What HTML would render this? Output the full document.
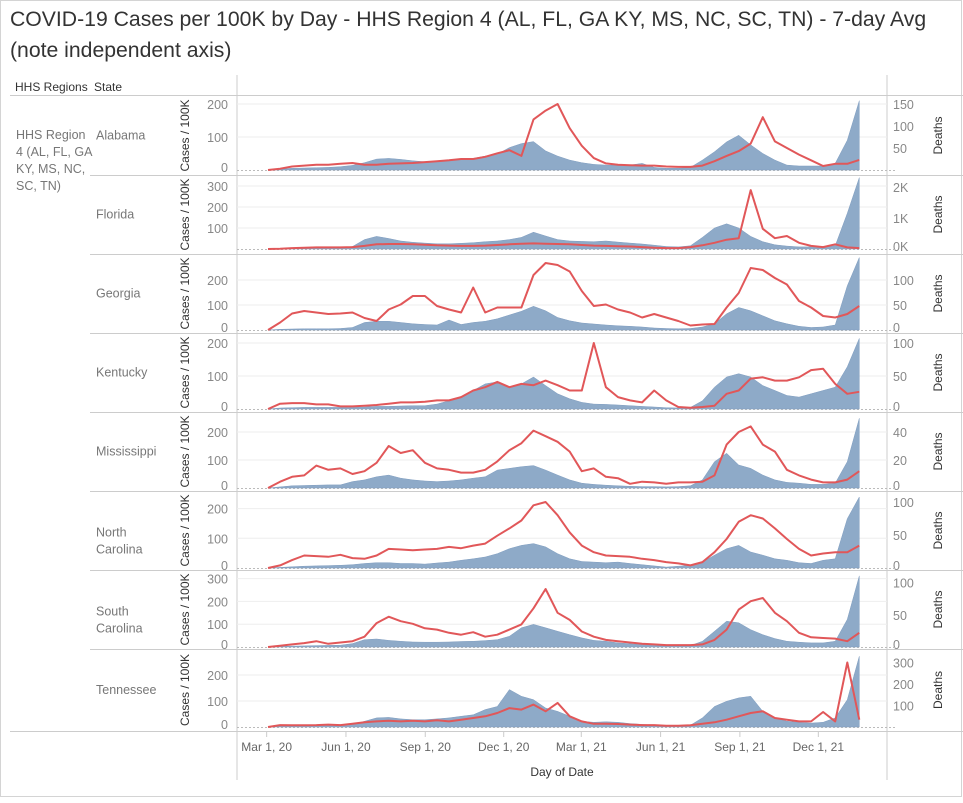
<!DOCTYPE html>
<html><head><meta charset="utf-8">
<style>
body{margin:0;background:#fff;font-family:"Liberation Sans",sans-serif;}
svg text{font-family:"Liberation Sans",sans-serif;}
</style></head>
<body>
<svg id="chart" width="963" height="798" viewBox="0 0 963 798" xmlns="http://www.w3.org/2000/svg">
<rect x="0.5" y="0.5" width="961" height="796" fill="#fff" stroke="#d4d4d4"/>
<text x="10" y="26" font-size="21.2" fill="#333">COVID-19 Cases per 100K by Day - HHS Region 4 (AL, FL, GA KY, MS, NC, SC, TN) - 7-day Avg</text>
<text x="10" y="57" font-size="21.2" fill="#333">(note independent axis)</text>
<text x="15" y="91" font-size="12" fill="#333">HHS Regions</text>
<text x="94" y="91" font-size="12" fill="#333">State</text>
<g fill="#777" font-size="12.5">
<text x="16" y="139">HHS Region</text><text x="16" y="156">4 (AL, FL, GA</text><text x="16" y="173">KY, MS, NC,</text><text x="16" y="190">SC, TN)</text>
</g>
<line x1="237" y1="75" x2="237" y2="780" stroke="#ccc"/>
<line x1="887" y1="75" x2="887" y2="780" stroke="#ccc"/>
<line x1="10" y1="95.5" x2="963" y2="95.5" stroke="#ccc"/>
<line x1="10" y1="731.5" x2="963" y2="731.5" stroke="#ccc"/>
<g id="panels"></g>
<g id="xaxis"></g>
<text x="562" y="776" font-size="12" fill="#333" text-anchor="middle">Day of Date</text>
</svg>
<script>
// dates: 50 samples, 14 days apart, starting day 12 after Mar 1 2020
const sampleStartDay = 12;
const sampleStepDays = 14;
const xTickLabels = ["Mar 1, 20","Jun 1, 20","Sep 1, 20","Dec 1, 20","Mar 1, 21","Jun 1, 21","Sep 1, 21","Dec 1, 21"];
const xTickDays = [0,92,184,275,365,457,549,640];

const stateNames = ["Alabama","Florida","Georgia","Kentucky","Mississippi","North Carolina","South Carolina","Tennessee"];

const alCases = [0,3,5,6,7,8,10,14,22,33,35,32,28,25,25,28,32,35,42,48,68,80,86,58,42,30,22,17,15,14,15,20,8,5,5,8,30,55,85,105,76,50,30,15,12,12,12,20,90,210];
const alDeaths = [0,3,8,10,12,12,14,16,12,12,14,15,16,18,20,22,25,25,30,38,45,32,115,135,150,95,55,27,15,12,11,10,10,8,7,7,10,20,32,43,60,120,65,50,35,22,9,14,14,23];
const flCases = [0,2,3,4,5,5,6,12,45,60,50,38,32,28,25,25,27,30,35,38,45,55,80,62,45,38,36,35,38,33,28,24,18,12,10,15,55,100,120,100,60,35,20,14,10,10,12,15,170,340];
const flDeaths = [0,10,30,40,50,50,50,60,100,150,160,160,150,140,120,110,100,100,110,130,150,170,180,170,160,150,130,110,100,90,80,60,40,30,30,60,120,200,300,350,1900,650,350,420,200,100,60,150,50,30];
const gaCases = [0,3,4,5,5,5,6,10,30,35,35,30,25,22,20,40,22,30,35,45,60,75,95,77,50,37,28,24,20,17,15,12,8,6,5,6,12,25,65,90,77,57,37,25,15,10,12,20,177,290];
const gaDeaths = [0,15,33,38,35,32,33,35,24,18,41,51,68,68,48,41,35,85,35,45,45,45,110,134,130,117,78,48,51,41,35,25,32,25,18,9,11,12,45,74,124,120,104,91,58,45,28,25,32,48];
const kyCases = [0,3,4,5,5,5,5,5,6,8,8,9,10,10,15,25,35,56,76,82,66,76,97,71,46,31,20,15,14,12,10,8,6,4,3,5,25,66,97,107,97,71,56,41,36,46,56,66,128,214];
const kyDeaths = [0,8,9,9,7,7,4,4,5,6,8,10,10,11,13,13,18,28,33,41,33,38,36,43,36,28,28,100,33,18,13,10,28,13,3,2,3,5,23,28,46,48,43,43,48,59,61,38,23,26];
const msCases = [0,4,8,9,10,11,11,23,29,40,46,35,29,25,23,25,29,35,40,64,70,76,80,64,46,29,17,13,10,8,6,5,5,4,5,8,29,94,124,82,70,46,29,20,17,13,13,17,94,249];
const msDeaths = [0,4.5,8,9,16,13,14,10,12,18,30,25,27,18,14,13,11,11,13,19,27,32,41,37,33,26,12,14,8,7,3,4.5,4,3,4,4,4.5,9,31,40,44,31,26,13,9,6,4,4,6,12];
const ncCases = [0,2,4,6,7,8,9,11,15,18,18,15,15,13,17,20,26,31,37,48,65,76,82,71,48,31,22,20,18,20,15,11,7,3,6,9,20,43,65,76,54,43,31,26,18,15,26,31,166,239];
const ncDeaths = [0,4,12,19,18,17,20,15,14,19,29,28,27,28,29,32,30,34,37,49,60,72,95,100,80,54,34,24,19,18,17,14,12,9,7,4,9,24,44,70,80,75,60,44,29,19,22,24,24,34];
const scCases = [0,2,4,5,6,7,8,15,32,35,29,25,22,21,21,22,24,25,28,32,47,84,99,84,69,54,40,29,25,18,14,10,7,6,5,6,25,69,113,106,76,54,37,25,21,18,18,25,121,312];
const scDeaths = [0,2,4,6,9,5,7,9,16,37,47,40,36,29,27,22,19,23,16,19,27,35,60,90,53,42,24,16,11,9,7,5,4,3,3,3,4,11,27,58,71,76,53,40,22,15,14,13,9,22];
const tnCases = [0,3,4,5,6,8,9,9,22,35,37,31,28,28,31,35,41,47,67,79,144,118,105,73,60,41,22,18,20,18,13,10,7,5,4,7,35,79,99,112,118,60,35,22,18,15,18,35,105,272];
const tnDeaths = [0,9,8,8,9,11,9,15,22,26,29,26,29,26,31,26,34,42,50,65,88,81,104,73,112,50,26,15,15,14,11,9,9,6,6,8,15,22,34,50,65,73,42,34,26,26,70,26,300,34];

const caseSeries = [alCases,flCases,gaCases,kyCases,msCases,ncCases,scCases,tnCases];
const deathSeries = [alDeaths,flDeaths,gaDeaths,kyDeaths,msDeaths,ncDeaths,scDeaths,tnDeaths];
const caseTicks = [[0,100,200],[100,200,300],[0,100,200],[0,100,200],[0,100,200],[0,100,200],[0,100,200,300],[0,100,200]];
const deathTicks = [[50,100,150],[0,1000,2000],[0,50,100],[0,50,100],[0,20,40],[0,50,100],[0,50,100],[100,200,300]];

// layout (not data)
const panelTops = [96,175,254,333,412,491,570,649];
const panelBottoms = [175,254,333,412,491,570,649,731];
const zeroYs = [170,249,330,409,488,568,647,727];
const casePxPerUnit = [0.33,0.21,0.25,0.33,0.28,0.297,0.228,0.26];
const deathPxPerUnit = [0.44,0.031,0.5,0.66,1.4,0.66,0.645,0.215];

const X0 = 268, PX_PER_DAY = 0.862;
function xDay(d){ return X0 + (d - sampleStartDay) * PX_PER_DAY; }
function xIdx(i){ return xDay(sampleStartDay + i * sampleStepDays); }
const NS = "http://www.w3.org/2000/svg";
function mk(tag, attrs, parent){ const e = document.createElementNS(NS, tag); for (const k in attrs) e.setAttribute(k, attrs[k]); parent.appendChild(e); return e; }
function fmtDeath(v, p){ return p === 1 ? (v/1000) + "K" : String(v); }

const panels = document.getElementById("panels");
for (let p = 0; p < 8; p++) {
  const g = mk("g", {}, panels);
  
  
  const z = zeroYs[p];
  const yc = v => z - v * casePxPerUnit[p];
  const yd = v => z - v * deathPxPerUnit[p];
  if (p > 0) {
    const sep = mk("line", {x1:90, y1:panelTops[p]+0.5, x2:963, y2:panelTops[p]+0.5, stroke:"#ccc"}, g);
    
    
  }
  const midY = (panelTops[p] + panelBottoms[p]) / 2;
  const lines = stateNames[p] === "North Carolina" ? ["North","Carolina"] : stateNames[p] === "South Carolina" ? ["South","Carolina"] : [stateNames[p]];
  lines.forEach((t, k) => {
    const by = lines.length > 1 ? midY + 6 + k * 17 : midY + 4;
    const st = mk("text", {x:96, y: by, "font-size":12.5, fill:"#777"}, g);
    st.textContent = t;
    
    
  });
  caseTicks[p].forEach(v => {
    if (v !== 0) {
      const gl = mk("line", {x1:237, x2:887, y1:yc(v), y2:yc(v), stroke:"#eeeeee"}, g);
      
      
    }
    const t = mk("text", {x:228, y: (v===0 ? yc(v)-3 : yc(v)) + 5, "font-size":12.5, fill:"#888", "text-anchor":"end"}, g);
    t.textContent = String(v);
    
    
  });
  deathTicks[p].forEach(v => {
    const t = mk("text", {x:893, y: (v===0 ? yd(v)-3 : yd(v)) + 5, "font-size":12.5, fill:"#888"}, g);
    t.textContent = fmtDeath(v, p);
    
    
  });
  const zl = mk("line", {x1:237, x2:897, y1:z+0.5, y2:z+0.5, stroke:"#bbb", "stroke-dasharray":"2,2"}, g);
  
  
  let d = "M" + xIdx(0) + "," + z;
  caseSeries[p].forEach((v, i) => { d += " L" + xIdx(i).toFixed(1) + "," + yc(v).toFixed(1); });
  d += " L" + xIdx(caseSeries[p].length-1).toFixed(1) + "," + z + " Z";
  const area = mk("path", {d:d, fill:"#8eaac8", stroke:"#7f9dc0", "stroke-width":0.5}, g);
  
  
  let ld = "";
  deathSeries[p].forEach((v, i) => { ld += (i ? " L" : "M") + xIdx(i).toFixed(1) + "," + yd(v).toFixed(1); });
  const line = mk("path", {d:ld, fill:"none", stroke:"#e15759", "stroke-width":2, "stroke-linejoin":"round"}, g);
  
  
  const yt = mk("text", {transform:"translate(189," + midY + ") rotate(-90)", "font-size":12, fill:"#333", "text-anchor":"middle"}, g);
  yt.textContent = "Cases / 100K";
  
  
  const dt = mk("text", {transform:"translate(942," + midY + ") rotate(-90)", "font-size":12, fill:"#333", "text-anchor":"middle"}, g);
  dt.textContent = "Deaths";
  
  
}
const xa = document.getElementById("xaxis");
xTickDays.forEach((dd, k) => {
  const x = xDay(dd) + 9;
  const tk = mk("line", {x1:x, x2:x, y1:732, y2:737, stroke:"#ccc"}, xa);
  
  
  const t = mk("text", {x:x, y:751, "font-size":12, fill:"#666", "text-anchor":"middle"}, xa);
  t.textContent = xTickLabels[k];
  
  
});
</script>
</body></html>
